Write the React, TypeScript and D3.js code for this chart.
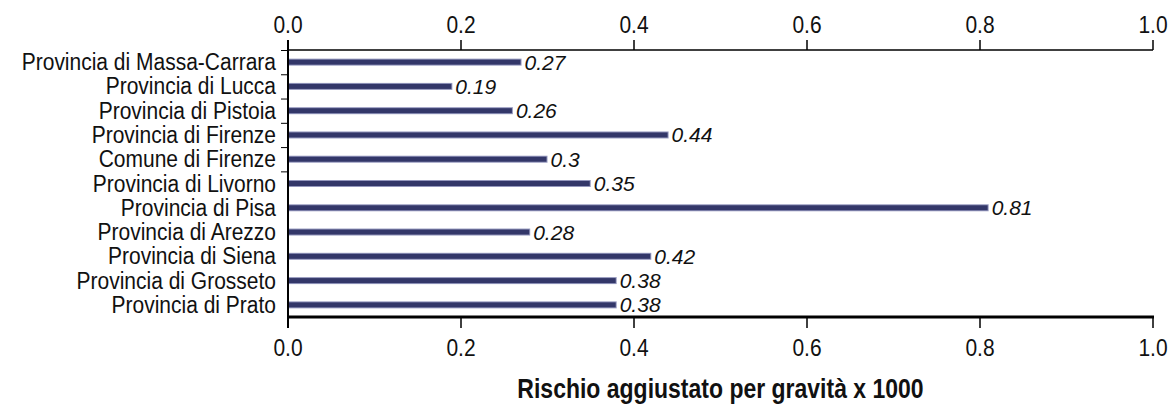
import React from "react";
import * as d3 from "d3";

const categories = [
  "Provincia di Massa-Carrara",
  "Provincia di Lucca",
  "Provincia di Pistoia",
  "Provincia di Firenze",
  "Comune di Firenze",
  "Provincia di Livorno",
  "Provincia di Pisa",
  "Provincia di Arezzo",
  "Provincia di Siena",
  "Provincia di Grosseto",
  "Provincia di Prato",
];
const values = [0.27, 0.19, 0.26, 0.44, 0.3, 0.35, 0.81, 0.28, 0.42, 0.38, 0.38];
const valueLabels = ["0.27", "0.19", "0.26", "0.44", "0.3", "0.35", "0.81", "0.28", "0.42", "0.38", "0.38"];
const xTicks = [0, 0.2, 0.4, 0.6, 0.8, 1.0];
const xTitle = "Rischio aggiustato per gravità x 1000";

const W = 1174;
const H = 406;
const FONT = "'Liberation Sans', Arial, sans-serif";

export default function App() {
  const x = d3.scaleLinear().domain([0, 1]).range([288, 1153]);
  const y = d3.scaleBand<string>().domain(categories).range([50, 317]).padding(0);
  const step = y.step();
  const fmt = d3.format(".1f");
  const left = x(0);
  const right = x(1);
  const top = 50;
  const bottom = 317;

  return (
    <svg
      width={W}
      height={H}
      style={{ position: "absolute", left: 0, top: 0, background: "#fff" }}
      fontFamily={FONT}
    >
      <rect x={0} y={0} width={W} height={H} fill="#fff" />
      {/* bars */}
      {categories.map((c, i) => {
        const cy = (y(c) as number) + step / 2;
        return (
          <g key={c}>
            <rect x={left} y={cy - 3.5} width={x(values[i]) - left} height={7} fill="#9497bd" />
            <rect x={left} y={cy - 2.5} width={x(values[i]) - left - 1} height={5} fill="#333769" />
            <text x={x(values[i]) + 3} y={cy + 7.5} fontSize={21} fontStyle="italic" fill="#111">
              {valueLabels[i]}
            </text>
            <text
              transform={`translate(276,${cy + 8}) scale(1,1.1)`}
              textAnchor="end"
              fontSize={21}
              fill="#111"
            >
              {c}
            </text>
          </g>
        );
      })}
      {/* left ticks */}
      {d3.range(0, 6).map((i) => (
        <line key={i} x1={281} x2={left} y1={top + i * step + 0.5} y2={top + i * step + 0.5} stroke="#000" strokeWidth={1} />
      ))}
      {/* top axis */}
      <line x1={left} x2={right} y1={top} y2={top} stroke="#000" strokeWidth={1.5} />
      {xTicks.map((t) => (
        <g key={"t" + t}>
          <line x1={x(t)} x2={x(t)} y1={40} y2={top} stroke="#000" strokeWidth={1.5} />
          <text transform={`translate(${x(t)},33) scale(1,1.12)`} textAnchor="middle" fontSize={21} fill="#111">
            {fmt(t)}
          </text>
        </g>
      ))}
      {/* bottom axis */}
      <line x1={left} x2={right + 1} y1={bottom} y2={bottom} stroke="#000" strokeWidth={3} />
      {xTicks.map((t) => (
        <g key={"b" + t}>
          <line x1={x(t)} x2={x(t)} y1={bottom} y2={328} stroke="#000" strokeWidth={1.5} />
          <text transform={`translate(${x(t)},356) scale(1,1.12)`} textAnchor="middle" fontSize={21} fill="#111">
            {fmt(t)}
          </text>
        </g>
      ))}
      {/* left axis */}
      <line x1={left} x2={left} y1={40} y2={328} stroke="#000" strokeWidth={2} />
      {/* title */}
      <text
        transform={`translate(${(left + right) / 2},398) scale(1,1.2)`}
        textAnchor="middle"
        fontSize={23}
        fontWeight="bold"
        fill="#111"
      >
        {xTitle}
      </text>
    </svg>
  );
}
